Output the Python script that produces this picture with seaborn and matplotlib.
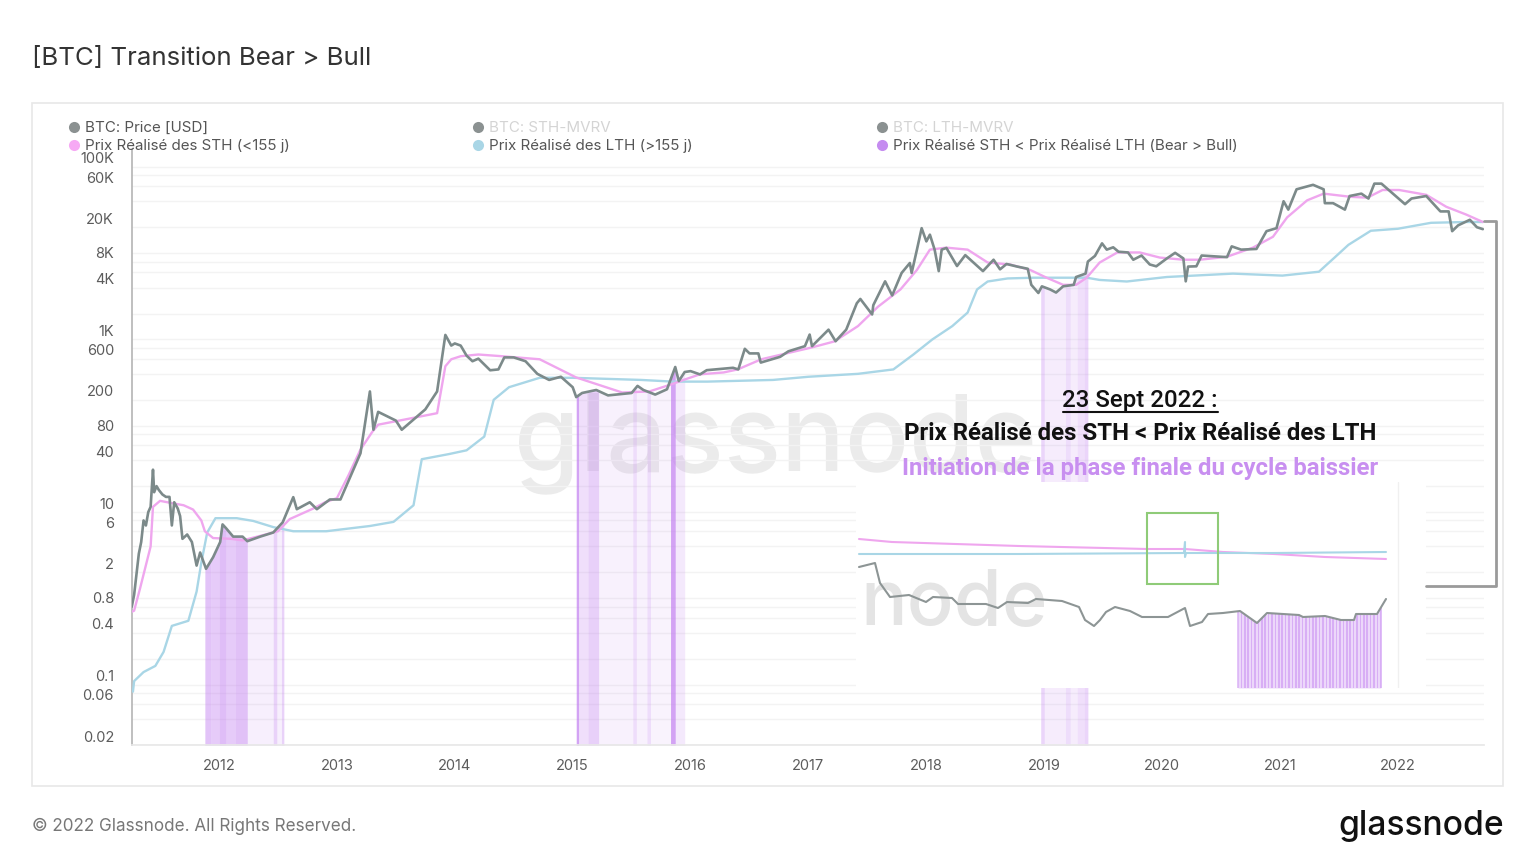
import numpy as np
import pandas as pd
import matplotlib
matplotlib.use('Agg')
import matplotlib.pyplot as plt
from matplotlib.patches import Rectangle
from matplotlib.transforms import ScaledTranslation
import seaborn as sns

# ----------------------------------------------------------------------
# Data (decimal year, USD)
# ----------------------------------------------------------------------
price_year = [2011.26, 2011.28, 2011.30, 2011.32, 2011.34, 2011.36, 2011.38, 2011.40, 2011.42, 2011.44,
              2011.45, 2011.47, 2011.49, 2011.52, 2011.55, 2011.58, 2011.60, 2011.62, 2011.65, 2011.67,
              2011.69, 2011.73, 2011.77, 2011.81, 2011.84, 2011.89, 2011.95, 2012.01, 2012.03, 2012.06,
              2012.12, 2012.20, 2012.24, 2012.35, 2012.46, 2012.54, 2012.63, 2012.66, 2012.77, 2012.83,
              2012.94, 2013.03, 2013.20, 2013.28, 2013.31, 2013.35, 2013.50, 2013.55, 2013.75, 2013.85,
              2013.92, 2013.97, 2014.00, 2014.05, 2014.10, 2014.15, 2014.20, 2014.30, 2014.37, 2014.42,
              2014.50, 2014.60, 2014.70, 2014.80, 2014.90, 2015.00, 2015.03, 2015.08, 2015.20, 2015.30,
              2015.50, 2015.55, 2015.60, 2015.70, 2015.80, 2015.87, 2015.90, 2015.95, 2016.00, 2016.08,
              2016.137, 2016.36, 2016.405, 2016.46, 2016.50, 2016.575, 2016.595, 2016.76, 2016.83, 2016.97,
              2017.01, 2017.03, 2017.17, 2017.23, 2017.32, 2017.41, 2017.44, 2017.54, 2017.55, 2017.65,
              2017.71, 2017.79, 2017.86, 2017.875, 2017.92, 2017.96, 2018.00, 2018.03, 2018.07, 2018.105,
              2018.13, 2018.17, 2018.26, 2018.33, 2018.48, 2018.57, 2018.625, 2018.68, 2018.77, 2018.86,
              2018.89, 2018.95, 2018.98, 2019.05, 2019.10, 2019.16, 2019.25, 2019.27, 2019.35, 2019.37,
              2019.43, 2019.49, 2019.53, 2019.585, 2019.63, 2019.71, 2019.755, 2019.825, 2019.895, 2019.95,
              2020.04, 2020.11, 2020.18, 2020.20, 2020.22, 2020.29, 2020.335, 2020.55, 2020.59, 2020.67,
              2020.80, 2020.885, 2020.97, 2021.03, 2021.07, 2021.14, 2021.28, 2021.37, 2021.38, 2021.45,
              2021.55, 2021.59, 2021.69, 2021.75, 2021.80, 2021.86, 2021.95, 2022.06, 2022.115, 2022.24,
              2022.36, 2022.43, 2022.46, 2022.51, 2022.61, 2022.67, 2022.72]
price_usd = [0.8, 1.1, 1.9, 3.3, 4.5, 8, 7, 10, 11.5, 31,
             17, 20, 18, 16, 15, 15, 7, 13, 11, 9,
             4.9, 5.5, 4.5, 2.4, 3.4, 2.2, 3, 4.5, 7.2, 6.5,
             5.2, 5.2, 4.6, 5.2, 5.8, 7.6, 14.9, 10.8, 13, 10.8,
             14, 14, 48, 250, 90, 145, 115, 90, 155, 250,
             1130, 850, 900, 850, 650, 560, 600, 440, 450, 620,
             620, 560, 400, 340, 370, 280, 215, 240, 260, 225,
             240, 290, 260, 230, 265, 480, 330, 420, 430, 394,
             441, 470, 450, 780, 690, 690, 540, 630, 730, 837,
             1140, 837, 1300, 955, 1300, 2630, 2950, 1950, 2500, 4720,
             3240, 5900, 7700, 5900, 11000, 19500, 13700, 16400, 11000, 6200,
             11000, 11500, 7100, 9500, 6200, 8400, 6500, 7500, 7000, 6600,
             4300, 3460, 4130, 3800, 3500, 4130, 4300, 5300, 5800, 8000,
             9300, 13000, 11000, 11700, 10400, 10200, 8400, 9400, 7400, 7050,
             8700, 10100, 8700, 4720, 7000, 7050, 9400, 9000, 12000, 11000,
             11200, 18000, 19500, 40000, 32000, 55000, 62000, 55000, 38000, 38000,
             32000, 46000, 49000, 43000, 64000, 64000, 50000, 37000, 43000, 46000,
             30500, 30500, 18000, 21000, 24400, 20000, 19000]

sth_year = [2011.26, 2011.28, 2011.33, 2011.42, 2011.44, 2011.50, 2011.60, 2011.70, 2011.78, 2011.85,
            2011.88, 2011.95, 2012.10, 2012.20, 2012.35, 2012.50, 2012.60, 2012.80, 2012.90, 2013.00,
            2013.10, 2013.20, 2013.30, 2013.35, 2013.60, 2013.85, 2013.88, 2013.92, 2013.97, 2014.05,
            2014.20, 2014.40, 2014.72, 2015.03, 2015.42, 2015.65, 2015.83, 2015.94, 2016.08, 2016.28,
            2016.40, 2016.60, 2017.03, 2017.22, 2017.42, 2017.59, 2017.78, 2017.92, 2018.03, 2018.17,
            2018.35, 2018.52, 2018.71, 2018.88, 2019.02, 2019.16, 2019.27, 2019.36, 2019.47, 2019.62,
            2019.81, 2019.98, 2020.18, 2020.32, 2020.55, 2020.77, 2020.94, 2021.06, 2021.23, 2021.37,
            2021.60, 2021.74, 2021.87, 2022.01, 2022.24, 2022.41, 2022.58, 2022.72]
sth_usd = [0.7, 0.72, 1.3, 4, 11.5, 13.5, 12.7, 12, 10.7, 8,
           6, 5, 4.9, 4.7, 5.3, 6, 8.3, 11, 13, 14.5,
           27, 53, 85, 103, 120, 140, 240, 490, 590, 640,
           670, 640, 590, 363, 243, 250, 300, 340, 395, 415,
           450, 590, 810, 950, 1430, 2400, 3800, 6400, 11000, 11600,
           11000, 7800, 7400, 6400, 5200, 4300, 4300, 5200, 7800, 10200,
           10200, 8900, 8400, 8400, 9100, 11600, 15500, 26000, 41000, 49000,
           45000, 44000, 54000, 54000, 47500, 34500, 28000, 23000]

lth_year = [2011.27, 2011.28, 2011.36, 2011.46, 2011.53, 2011.60, 2011.74, 2011.81, 2011.85, 2011.90,
            2011.97, 2012.15, 2012.29, 2012.46, 2012.63, 2012.91, 2013.28, 2013.48, 2013.65, 2013.70,
            2013.72, 2013.95, 2014.10, 2014.25, 2014.33, 2014.46, 2014.72, 2015.00, 2015.58, 2015.85,
            2016.14, 2016.70, 2017.00, 2017.42, 2017.72, 2017.89, 2018.05, 2018.22, 2018.35, 2018.43,
            2018.52, 2018.69, 2018.91, 2019.36, 2019.47, 2019.70, 2020.04, 2020.60, 2021.02, 2021.33,
            2021.47, 2021.58, 2021.77, 2022.00, 2022.28, 2022.58, 2022.72]
lth_usd = [0.083, 0.11, 0.14, 0.165, 0.24, 0.48, 0.55, 1.2, 2.6, 5.8,
           8.5, 8.5, 7.9, 6.7, 6, 6, 6.9, 7.7, 12, 29,
           41, 47, 52, 75, 200, 280, 360, 360, 340, 325,
           325, 340, 370, 400, 450, 670, 1000, 1430, 2050, 3800,
           4700, 5100, 5200, 5200, 4900, 4700, 5300, 5800, 5500, 6100,
           9100, 12500, 18200, 19200, 22500, 23000, 23000]

# Bear > Bull shading: start year, end year, opacity
band_start = [2011.88, 2011.93, 2012.00, 2012.06, 2012.14, 2012.24, 2012.46, 2012.49, 2012.53,
              2015.03, 2015.05, 2015.13, 2015.22, 2015.51, 2015.54, 2015.63, 2015.66, 2015.83, 2015.87,
              2018.97, 2019.00, 2019.18, 2019.22, 2019.28, 2019.34]
band_end = [2011.93, 2012.00, 2012.06, 2012.14, 2012.24, 2012.46, 2012.49, 2012.53, 2012.55,
            2015.05, 2015.13, 2015.22, 2015.51, 2015.54, 2015.63, 2015.66, 2015.83, 2015.87, 2015.95,
            2019.00, 2019.18, 2019.22, 2019.28, 2019.34, 2019.37]
band_alpha = [0.46, 0.4, 0.5, 0.4, 0.47, 0.12, 0.34, 0.12, 0.34,
              0.7, 0.24, 0.36, 0.1, 0.26, 0.1, 0.26, 0.09, 0.7, 0.17,
              0.32, 0.14, 0.26, 0.14, 0.24, 0.32]

y_grid = [0.02, 0.04, 0.06, 0.08, 0.1, 0.2, 0.4, 0.6, 0.8, 1, 2, 4, 6, 8, 10, 20, 40, 60, 80, 100,
          200, 400, 600, 800, 1000, 2000, 4000, 6000, 8000, 10000, 20000, 40000, 60000, 80000, 100000]
y_labels = {0.02: '0.02', 0.06: '0.06', 0.1: '0.1', 0.4: '0.4', 0.8: '0.8', 2: '2', 6: '6', 10: '10',
            40: '40', 80: '80', 200: '200', 600: '600', 1000: '1K', 4000: '4K', 8000: '8K',
            20000: '20K', 60000: '60K', 100000: '100K'}
x_years = list(range(2012, 2023))

# Pasted zoom in the corner: horizontal position / height on its own unlabelled scale
inset_x = [859, 875, 880, 890, 909, 926, 933, 952, 958, 986, 998, 1007, 1028, 1036, 1062, 1079, 1085, 1094,
           1100, 1106, 1115, 1130, 1142, 1168, 1185, 1190, 1202, 1208, 1223, 1240, 1257, 1267, 1299, 1303,
           1325, 1341, 1354, 1356, 1377, 1386]
inset_gray = [567, 563, 583, 597, 595, 602, 597, 598, 604, 604, 608, 602, 603, 599, 601, 607, 620, 626,
              620, 612, 607, 611, 617, 617, 608, 626, 622, 614, 613, 611, 623, 613, 615, 617,
              616, 620, 620, 614, 614, 599]
inset_pink_x = [859, 892, 1019, 1147, 1185, 1223, 1274, 1325, 1386]
inset_pink = [539, 542, 546, 549, 549, 552, 554, 557, 559]
inset_blue_x = [859, 1019, 1184, 1185, 1185, 1186, 1274, 1386]
inset_blue = [554, 554, 553, 542, 557, 553, 553, 552]

COL_PRICE = '#7c8a8a'
COL_STH = '#efa6ee'
COL_LTH = '#a9d6e6'
COL_BAND = '#c17df0'
COL_TEXT = '#5c5c5c'

sns.set_theme(style='white')
plt.rcParams['font.family'] = ['Inter', 'DejaVu Sans']

W, H = 1536, 864
fig = plt.figure(figsize=(W / 100, H / 100), dpi=100, facecolor='white')


def px_axes(x0, y0, x1, y1, zorder):
    return fig.add_axes([x0 / W, 1 - y1 / H, (x1 - x0) / W, (y1 - y0) / H], zorder=zorder)


# Card + big watermark sit underneath
bg = px_axes(0, 0, W, H, 0)
bg.set_xlim(0, W)
bg.set_ylim(H, 0)
bg.axis('off')
bg.add_patch(Rectangle((32, 103), 1471, 683, fc='white', ec='#e8e8e8', lw=1.2))
bg.text(514, 470, 'glassnode', fontsize=76.5, fontweight='medium', color='#ebebeb', va='baseline')

# ----------------------------------------------------------------------
# Main chart
# ----------------------------------------------------------------------
ax = px_axes(132, 150, 1484, 745, 1)
ax.patch.set_visible(False)

df_price = pd.DataFrame({'year': price_year, 'usd': price_usd})
df_sth = pd.DataFrame({'year': sth_year, 'usd': sth_usd})
df_lth = pd.DataFrame({'year': lth_year, 'usd': lth_usd})

ax.set_yscale('log')
ax.set_xlim(2011.262, 2022.73)
ax.set_ylim(0.0205, 157000)

for start, end, alpha in zip(band_start, band_end, band_alpha):
    xs = np.linspace(start, end, 6)
    ax.fill_between(xs, 0.001, np.interp(xs, price_year, price_usd), color=COL_BAND, alpha=alpha, lw=0, zorder=2)

sns.lineplot(data=df_lth, x='year', y='usd', color=COL_LTH, lw=1.7, estimator=None, sort=False, ax=ax, zorder=3)
sns.lineplot(data=df_sth, x='year', y='usd', color=COL_STH, lw=1.7, estimator=None, sort=False, ax=ax, zorder=4)
sns.lineplot(data=df_price, x='year', y='usd', color=COL_PRICE, lw=1.9, estimator=None, sort=False, ax=ax, zorder=5)

ax.set_xlabel('')
ax.set_ylabel('')
ax.set_xticks(x_years)
ax.set_xticklabels([str(y) for y in x_years], fontsize=10.5, color=COL_TEXT)
ax.set_yticks(y_grid)
ax.set_yticklabels([y_labels.get(v, '') for v in y_grid], fontsize=10.5, color=COL_TEXT)
ax.minorticks_off()
ax.grid(axis='y', color='#f3f3f3', lw=1)
ax.set_axisbelow(True)
ax.tick_params(axis='y', length=0, pad=13)
ax.tick_params(axis='x', length=5, color='#eeeeee', pad=5, direction='out')
# axis labels sit above their gridline, not centred on it
shift = ScaledTranslation(0, 9 / 100, fig.dpi_scale_trans)
for lab in ax.get_yticklabels():
    lab.set_transform(lab.get_transform() + shift)
sns.despine(ax=ax, top=True, right=True)
ax.spines['left'].set_color('#b4b4b4')
ax.spines['left'].set_linewidth(1.2)
ax.spines['bottom'].set_color('#e8e8e8')

# ----------------------------------------------------------------------
# Pasted zoom, white background covers the chart below it
# ----------------------------------------------------------------------
ins = px_axes(856, 482, 1426, 688, 2)
ins.add_patch(Rectangle((856, 482), 570, 206, fc='white', ec='none', zorder=0))
ins.text(860, 625, 'node', fontsize=56, fontweight='medium', color='#e4e4e4', va='baseline', zorder=1)
ins.plot([1398, 1398], [482, 688], color='#f0f0f0', lw=1, zorder=1)

bar_x = np.arange(1238, 1383, 3.4)
bar_top = np.interp(bar_x, inset_x, inset_gray)
ins.fill_between(bar_x, bar_top, 688, color=COL_BAND, alpha=0.3, lw=0, zorder=2)
ins.bar(bar_x, 688 - bar_top, bottom=bar_top, width=1.7, color=COL_BAND, alpha=0.45, lw=0, zorder=2)

sns.lineplot(x=inset_pink_x, y=inset_pink, color=COL_STH, lw=1.5, estimator=None, sort=False, ax=ins, zorder=3)
sns.lineplot(x=inset_blue_x, y=inset_blue, color=COL_LTH, lw=1.5, estimator=None, sort=False, ax=ins, zorder=3)
sns.lineplot(x=inset_x, y=inset_gray, color='#8d9595', lw=1.5, estimator=None, sort=False, ax=ins, zorder=4)
ins.set_xlim(856, 1426)
ins.set_ylim(688, 482)
ins.axis('off')
ins.add_patch(Rectangle((1147, 513), 71, 71, fc='none', ec='#8fcb78', lw=1.5, zorder=5))

# ----------------------------------------------------------------------
# Titles, legend, annotations
# ----------------------------------------------------------------------
top = px_axes(0, 0, W, H, 3)
top.set_xlim(0, W)
top.set_ylim(H, 0)
top.axis('off')

top.text(32, 58, '[BTC] Transition Bear > Bull', fontsize=18.6, color='#333333', va='center')

legend_items = [
    (74, 127, '#8b9191', 'BTC: Price [USD]', '#555555'),
    (74, 145, '#f6a9f4', 'Prix Réalisé des STH (<155 j)', '#555555'),
    (478, 127, '#8b9191', 'BTC: STH-MVRV', '#d4d4d4'),
    (478, 145, '#a9d6e6', 'Prix Réalisé des LTH (>155 j)', '#555555'),
    (882, 127, '#8b9191', 'BTC: LTH-MVRV', '#d4d4d4'),
    (882, 145, '#c58cf0', 'Prix Réalisé STH < Prix Réalisé LTH (Bear > Bull)', '#555555'),
]
for mx, my, mcol, label, tcol in legend_items:
    top.plot(mx, my, 'o', ms=8, color=mcol, mew=0)
    top.text(mx + 11, my + 1, label, fontsize=10.9, color=tcol, va='center')

top.text(1140, 401, '23 Sept 2022 :', fontsize=17.3, color='#111111', ha='center', va='center',
         fontweight='medium', family='Roboto')
top.plot([1063, 1218], [411.5, 411.5], color='#111111', lw=1.5)
top.text(1140, 434, 'Prix Réalisé des STH < Prix Réalisé des LTH', fontsize=17.25, color='#111111',
         ha='center', va='center', fontweight='bold', family='Roboto')
top.text(1140, 468, 'Initiation de la phase finale du cycle baissier', fontsize=17.25, color='#c88ff0',
         ha='center', va='center', fontweight='bold', family='Roboto')

# bracket tying the last values to the zoom
top.plot([1484, 1496, 1496, 1426], [221, 221, 586, 586], color='#9a9a9a', lw=2)

top.text(32, 826, '© 2022 Glassnode. All Rights Reserved.', fontsize=12.3, color='#777777', va='center')
top.text(1504, 835, 'glassnode', fontsize=24.2, fontweight='medium', color='#111111', ha='right', va='baseline')

fig.savefig('out.png', dpi=100)
